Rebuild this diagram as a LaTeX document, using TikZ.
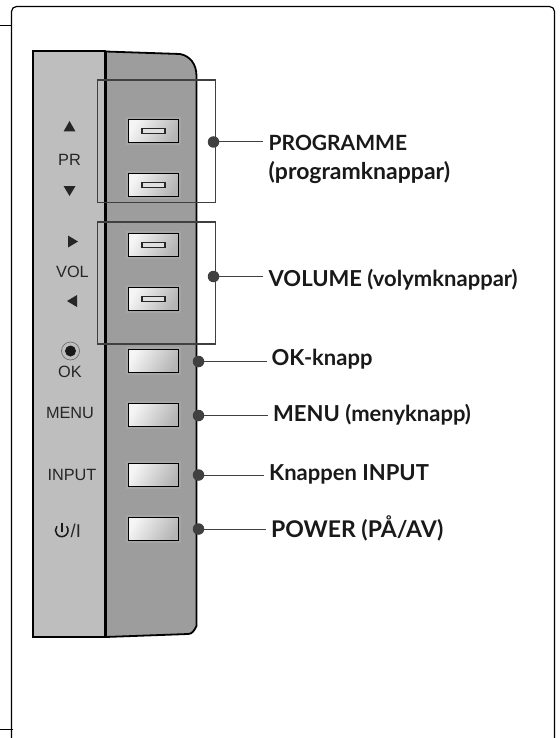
\documentclass[tikz,border=0pt]{standalone}
\usepackage{fontspec}
\setmainfont{Lato}
\newfontfamily\panelfont{Liberation Sans}
\definecolor{panelL}{gray}{0.745}
\definecolor{panelR}{gray}{0.615}
\definecolor{lead}{gray}{0.25}
\tikzset{
  x=1pt,y=-1pt,
  btnrim/.style={fill=gray!40!panelL,draw=none},
  slot/.style={draw=black!85,line width=1.1pt,fill=gray!25},
  group/.style={draw=lead,line width=1.5pt,minimum width=118pt,minimum height=122pt,inner sep=0pt,anchor=north west},
  leader/.style={draw=lead,line width=1pt},
  dotmark/.style={circle,fill=lead,draw=none,minimum size=11.5pt,inner sep=0pt},
  lab/.style={anchor=base west,font=\fontsize{22}{26}\bfseries\selectfont,inner sep=0pt,text=black!90},
  labS/.style={lab,font=\fontsize{21}{26}\bfseries\selectfont},
  labL/.style={lab,font=\fontsize{23}{26}\bfseries\selectfont},
  pan/.style={font=\panelfont\fontsize{16.3}{18}\selectfont,text=black!85,inner sep=0pt},
  tri/.style={fill=black!85,draw=none}
}
\newcommand{\mybtn}[3]{% name, x(left), y(top)
  \fill[btnrim] (#2-2.5,#3-2.5) rectangle (#2+52.5,#3+25.5);
  \shade[top color=gray!8,bottom color=gray!58,shading angle=60] (#2,#3) rectangle (#2+50,#3+23);
  \draw[draw=black,line width=1.8pt] (#2,#3) rectangle (#2+50,#3+23);
  \coordinate (#1) at (#2+25,#3+11.5);
}
\begin{document}
\begin{tikzpicture}
\useasboundingbox (0,0) rectangle (559,738);
% page frame
\draw[line width=0.8pt,black] (0,25.5) -- (11.5,25.5);
\draw[line width=0.8pt,black] (0,729) -- (13,729);
\draw[line width=1.2pt,black,rounded corners=5pt] (11.5,738) -- (11.5,6.5) -- (554.5,6.5) -- (554.5,738);
% panel
\fill[panelL] (33,51.5) rectangle (105.5,637);
\fill[panelR] (105.5,51.5) -- (180,54) .. controls (190,56) and (196.5,64) .. (196.5,76) -- (196.5,626) .. controls (194,631) and (192,634) .. (188,634) -- (105.5,637) -- cycle;
\draw[line width=2pt,black] (105.5,51.5) -- (33,51.5) -- (33,637) -- (105.5,637);
\draw[line width=1.8pt,black] (105.5,51.5) -- (180,54) .. controls (190,56) and (196.5,64) .. (196.5,76) -- (196.5,626) .. controls (194,631) and (192,634) .. (188,634) -- (105.5,637);
\draw[line width=2.6pt,black] (105.5,51.5) -- (105.5,637);
% buttons
\mybtn{b1}{128.5}{119.5}
\mybtn{b2}{128.5}{173.5}
\mybtn{b3}{128.5}{233.5}
\mybtn{b4}{128.5}{287.5}
\mybtn{b5}{128.5}{349.5}
\mybtn{b6}{128.5}{403.5}
\mybtn{b7}{128.5}{463.5}
\mybtn{b8}{128.5}{517.5}
\foreach \n in {b1,b2,b3,b4}{\draw[slot] ([xshift=-11.5pt,yshift=-2.5pt]\n) rectangle ([xshift=11.5pt,yshift=2.5pt]\n);}
% panel marks
\fill[tri] (69.5,121) -- (75.5,131.5) -- (63.5,131.5) -- cycle;
\fill[tri] (69.5,196) -- (75.5,186) -- (63.5,186) -- cycle;
\fill[tri] (78,241.5) -- (68,235.5) -- (68,247.5) -- cycle;
\fill[tri] (67,301) -- (77,295) -- (77,307) -- cycle;
\node[pan] (pr) at (69.5,159.5) {PR};
\node[pan] (vol) at (72.5,272) {VOL};
\node[pan] (ok) at (70,371.5) {OK};
\node[pan] (menu) at (70,412.5) {MENU};
\node[pan] (input) at (72,475) {INPUT};
\draw[black!60,line width=0.6pt] (70.5,351) circle (9pt);
\fill[black!90] (70.5,351) circle (5.5pt);
\node[pan,anchor=base west,font=\panelfont\fontsize{18.5}{20}\selectfont] (slash) at (70.5,537) {/I};
\draw[black!90,line width=1.5pt] (66.6,526.3) arc[start angle=40,end angle=-220,radius=6.3pt];
\draw[black!90,line width=1.5pt] (61.8,522.5) -- (61.8,531.5);
% bracket groups
\node[group] (g1) at (96.5,79.5) {};
\node[group] (g2) at (96.5,221) {};
% leaders
\node[dotmark] (d1) at (213.5,142) {};
\node[dotmark] (d2) at (213.5,276.5) {};
\node[dotmark] (d3) at (198.5,361.5) {};
\node[dotmark] (d4) at (198.5,415.5) {};
\node[dotmark] (d5) at (198.5,475) {};
\node[dotmark] (d6) at (198.5,529) {};
\node[labS] (t1) at (268.5,151) {PROGRAMME};
\node[labL] (t1b) at (268.5,179) {(programknappar)};
\node[lab] (t2) at (268.5,286) {VOLUME (volymknappar)};
\node[lab] (t3) at (271.5,365) {OK-knapp};
\node[lab] (t4) at (273,421) {MENU (menyknapp)};
\node[lab] (t5) at (269,480) {Knappen INPUT};
\node[labL] (t6) at (271,537) {POWER (PÅ/AV)};
\draw[leader] (d1) -- ([xshift=-6pt]d1-|t1.west);
\draw[leader] (d2) -- ([xshift=-6pt]d2-|t2.west);
\draw[leader] (d3) -- ([xshift=-5pt]d3-|t3.west);
\draw[leader] (d4) -- ([xshift=-5pt]d4-|t4.west);
\draw[leader] (d5) -- ([xshift=-5pt]d5-|t5.west);
\draw[leader] (d6) -- ([xshift=-5pt]d6-|t6.west);
\end{tikzpicture}
\end{document}
